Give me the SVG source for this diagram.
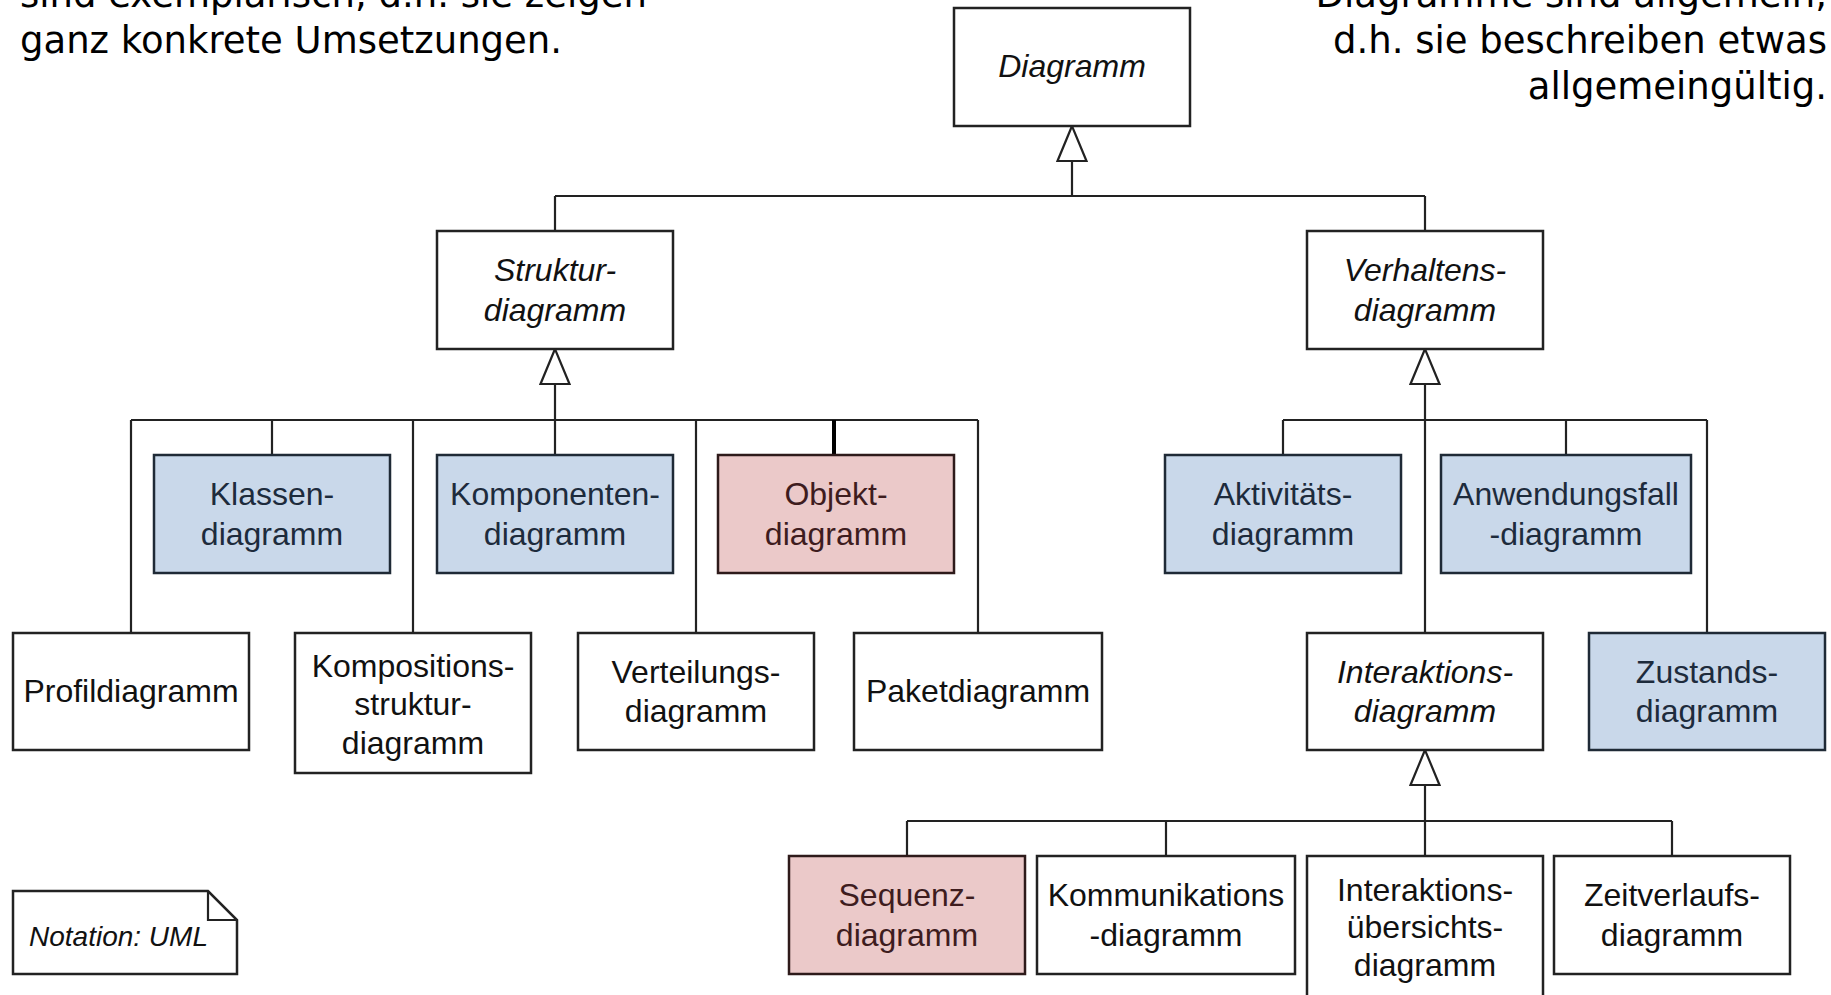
<svg xmlns="http://www.w3.org/2000/svg" width="1831" height="995" viewBox="0 0 1831 995">
  <style>
    .box { fill: #ffffff; stroke: #222222; stroke-width: 2.5; }
    .blue { fill: #c9d8ea; stroke: #1f2a36; stroke-width: 2.5; }
    .pink { fill: #ebc9c9; stroke: #2e1a1a; stroke-width: 2.5; }
    .lbl { font-family: "Liberation Sans", Arial, sans-serif; font-size: 32px; text-anchor: middle; fill: #111111; }
    .it { font-style: italic; }
    .tb { fill: #1d2b3c; }
    .tp { fill: #3e1c1e; }
    .wire { fill: none; stroke: #222222; stroke-width: 2.2; }
    .gen { fill: #ffffff; stroke: #222222; stroke-width: 2.2; stroke-linejoin: miter; }
    .note { font-family: "DejaVu Sans", Verdana, sans-serif; font-size: 37px; fill: #000000; }
  </style>
  <defs>
    <!-- hollow generalization triangle, tip at origin -->
    <path id="genHead" class="gen" d="M0,0 L-14.5,35 L14.5,35 Z"/>
  </defs>

  <rect width="1831" height="995" fill="#ffffff"/>

  <!-- explanatory texts -->
  <g id="text-left">
    <text class="note" x="20" y="7">sind exemplarisch, d.h. sie zeigen</text>
    <text class="note" x="20" y="52.6">ganz konkrete Umsetzungen.</text>
  </g>
  <g id="text-right">
    <text class="note" x="1827" y="7" text-anchor="end">Diagramme sind allgemein,</text>
    <text class="note" x="1827" y="52.6" text-anchor="end">d.h. sie beschreiben etwas</text>
    <text class="note" x="1827" y="99" text-anchor="end">allgemeingültig.</text>
  </g>

  <!-- connectors -->
  <g id="connectors">
    <!-- Diagramm -> Struktur / Verhalten -->
    <path class="wire" d="M1072,161 V196 M555,196 H1425 M555,196 V231 M1425,196 V231"/>
    <use href="#genHead" x="1072" y="126"/>

    <!-- Strukturdiagramm subtree -->
    <path class="wire" d="M555,384 V455 M131,420 H978 M272,420 V455 M131,420 V633 M413,420 V633 M696,420 V633 M978,420 V633"/>
    <line x1="834" y1="420" x2="834" y2="455" stroke="#000000" stroke-width="4"/>
    <use href="#genHead" x="555" y="349"/>

    <!-- Verhaltensdiagramm subtree -->
    <path class="wire" d="M1425,384 V633 M1283,420 H1707 M1283,420 V455 M1566,420 V455 M1707,420 V633"/>
    <use href="#genHead" x="1425" y="349"/>

    <!-- Interaktionsdiagramm subtree -->
    <path class="wire" d="M1425,785 V856 M907,821 H1672 M907,821 V856 M1166,821 V856 M1672,821 V856"/>
    <use href="#genHead" x="1425" y="750"/>
  </g>

  <!-- nodes -->
  <g id="diagramm">
    <rect class="box" x="954" y="8" width="236" height="118"/>
    <text class="lbl it" x="1072" y="77">Diagramm</text>
  </g>
  <g id="strukturdiagramm">
    <rect class="box" x="437" y="231" width="236" height="118"/>
    <text class="lbl it" x="555" y="281">Struktur-</text>
    <text class="lbl it" x="555" y="320.5">diagramm</text>
  </g>
  <g id="verhaltensdiagramm">
    <rect class="box" x="1307" y="231" width="236" height="118"/>
    <text class="lbl it" x="1425" y="281">Verhaltens-</text>
    <text class="lbl it" x="1425" y="320.5">diagramm</text>
  </g>

  <g id="klassendiagramm">
    <rect class="blue" x="154" y="455" width="236" height="118"/>
    <text class="lbl tb" x="272" y="505">Klassen-</text>
    <text class="lbl tb" x="272" y="544.5">diagramm</text>
  </g>
  <g id="komponentendiagramm">
    <rect class="blue" x="437" y="455" width="236" height="118"/>
    <text class="lbl tb" x="555" y="505">Komponenten-</text>
    <text class="lbl tb" x="555" y="544.5">diagramm</text>
  </g>
  <g id="objektdiagramm">
    <rect class="pink" x="718" y="455" width="236" height="118"/>
    <text class="lbl tp" x="836" y="505">Objekt-</text>
    <text class="lbl tp" x="836" y="544.5">diagramm</text>
  </g>
  <g id="aktivitaetsdiagramm">
    <rect class="blue" x="1165" y="455" width="236" height="118"/>
    <text class="lbl tb" x="1283" y="505">Aktivitäts-</text>
    <text class="lbl tb" x="1283" y="544.5">diagramm</text>
  </g>
  <g id="anwendungsfalldiagramm">
    <rect class="blue" x="1441" y="455" width="250" height="118"/>
    <text class="lbl tb" x="1566" y="505">Anwendungsfall</text>
    <text class="lbl tb" x="1566" y="544.5">-diagramm</text>
  </g>

  <g id="profildiagramm">
    <rect class="box" x="13" y="633" width="236" height="117"/>
    <text class="lbl" x="131" y="702">Profildiagramm</text>
  </g>
  <g id="kompositionsstrukturdiagramm">
    <rect class="box" x="295" y="633" width="236" height="140"/>
    <text class="lbl" x="413" y="676.5">Kompositions-</text>
    <text class="lbl" x="413" y="715">struktur-</text>
    <text class="lbl" x="413" y="753.5">diagramm</text>
  </g>
  <g id="verteilungsdiagramm">
    <rect class="box" x="578" y="633" width="236" height="117"/>
    <text class="lbl" x="696" y="682.5">Verteilungs-</text>
    <text class="lbl" x="696" y="722">diagramm</text>
  </g>
  <g id="paketdiagramm">
    <rect class="box" x="854" y="633" width="248" height="117"/>
    <text class="lbl" x="978" y="702">Paketdiagramm</text>
  </g>
  <g id="interaktionsdiagramm">
    <rect class="box" x="1307" y="633" width="236" height="117"/>
    <text class="lbl it" x="1425" y="682.5">Interaktions-</text>
    <text class="lbl it" x="1425" y="722">diagramm</text>
  </g>
  <g id="zustandsdiagramm">
    <rect class="blue" x="1589" y="633" width="236" height="117"/>
    <text class="lbl tb" x="1707" y="682.5">Zustands-</text>
    <text class="lbl tb" x="1707" y="722">diagramm</text>
  </g>

  <g id="sequenzdiagramm">
    <rect class="pink" x="789" y="856" width="236" height="118"/>
    <text class="lbl tp" x="907" y="906">Sequenz-</text>
    <text class="lbl tp" x="907" y="945.5">diagramm</text>
  </g>
  <g id="kommunikationsdiagramm">
    <rect class="box" x="1037" y="856" width="258" height="118"/>
    <text class="lbl" x="1166" y="906">Kommunikations</text>
    <text class="lbl" x="1166" y="945.5">-diagramm</text>
  </g>
  <g id="interaktionsuebersichtsdiagramm">
    <rect class="box" x="1307" y="856" width="236" height="142"/>
    <text class="lbl" x="1425" y="900.5">Interaktions-</text>
    <text class="lbl" x="1425" y="938">übersichts-</text>
    <text class="lbl" x="1425" y="975.5">diagramm</text>
  </g>
  <g id="zeitverlaufsdiagramm">
    <rect class="box" x="1554" y="856" width="236" height="118"/>
    <text class="lbl" x="1672" y="906">Zeitverlaufs-</text>
    <text class="lbl" x="1672" y="945.5">diagramm</text>
  </g>

  <!-- UML note with folded corner -->
  <g id="notation-note">
    <path class="box" d="M13,891 H208 L237,920 V974 H13 Z"/>
    <path class="wire" d="M208,891 V920 H237" stroke-width="2.5"/>
    <text class="lbl it" x="29" y="946" style="font-size:28px;text-anchor:start">Notation: UML</text>
  </g>
</svg>
